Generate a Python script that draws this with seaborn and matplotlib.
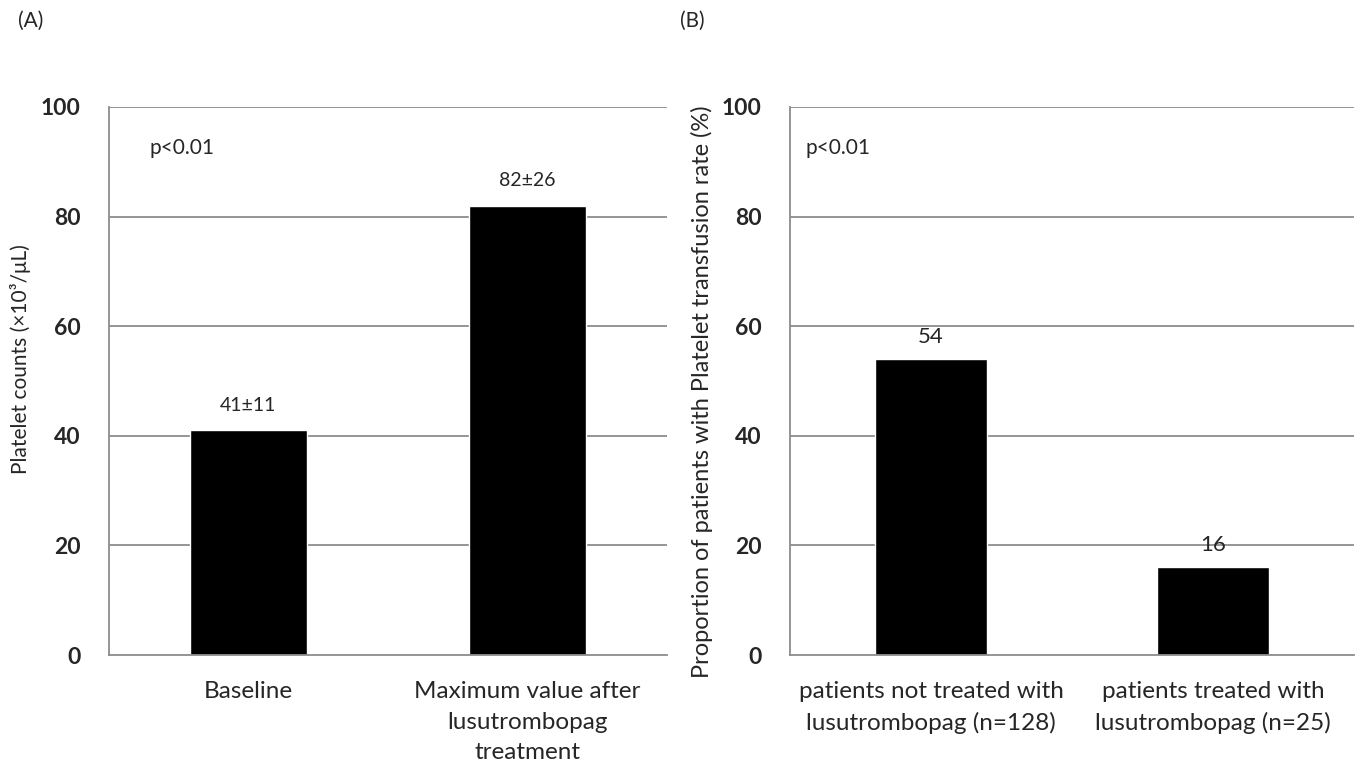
import numpy as np
import pandas as pd
import matplotlib.pyplot as plt
import seaborn as sns

sns.set_theme(style="white")
plt.rcParams['font.family'] = ['Lato', 'DejaVu Sans']

# panel A data
cats_a = ["Baseline", "Maximum value after\nlusutrombopag\ntreatment"]
vals_a = [41, 82]
notes_a = ["41\u00b111", "82\u00b126"]

# panel B data
cats_b = ["patients not treated with\nlusutrombopag (n=128)",
          "patients treated with\nlusutrombopag (n=25)"]
vals_b = [54, 16]
notes_b = ["54", "16"]

yticks = [0, 20, 40, 60, 80, 100]
grey = "#8c8c8c"


def style_panel(ax, ylabel, label_size, label_x, label_y):
    ax.set_ylim(0, 100)
    ax.set_xlim(-0.5, 1.5)
    ax.set_yticks(yticks)
    for y in yticks[1:]:
        ax.axhline(y, color=grey, lw=1.3, zorder=0)
    for s in ["top", "right"]:
        ax.spines[s].set_visible(False)
    for s in ["left", "bottom"]:
        ax.spines[s].set_color(grey)
        ax.spines[s].set_linewidth(1.3)
    ax.tick_params(axis="y", direction="out", length=6.5, width=1.3, color=grey,
                   labelsize=16.5, pad=14)
    for lab in ax.get_yticklabels():
        lab.set_fontweight("bold")
    # category separators as minor ticks
    ax.set_xticks([-0.5, 0.5, 1.5], minor=True)
    ax.tick_params(axis="x", which="minor", direction="out", length=8, width=1.3, color=grey)
    ax.tick_params(axis="x", which="major", length=0, labelsize=17.5, pad=19)
    for lab in ax.get_xticklabels():
        lab.set_linespacing(1.55)
    ax.set_xlabel("")
    ax.set_ylabel(ylabel, fontsize=label_size)
    ax.yaxis.set_label_coords(label_x, label_y)


fig = plt.figure(figsize=(13.62, 7.67), dpi=100)
ax_a = fig.add_axes([0.080, 0.146, 0.4097, 0.7145])
ax_b = fig.add_axes([0.580, 0.146, 0.4141, 0.7145])

df_a = pd.DataFrame({"cat": cats_a, "val": vals_a})
sns.barplot(data=df_a, x="cat", y="val", color="black", saturation=1,
            width=0.42, ax=ax_a, zorder=2)
style_panel(ax_a, "Platelet counts (\u00d710\u00b3/\u03bcL)", 15, -0.14, 0.54)
for i, (v, t) in enumerate(zip(vals_a, notes_a)):
    ax_a.text(i, v + 4.5, t, ha="center", va="center", fontsize=14)
ax_a.text(0.073, 0.925, "p<0.01", transform=ax_a.transAxes, fontsize=15,
          ha="left", va="center")

df_b = pd.DataFrame({"cat": cats_b, "val": vals_b})
sns.barplot(data=df_b, x="cat", y="val", color="black", saturation=1,
            width=0.40, ax=ax_b, zorder=2)
style_panel(ax_b, "Proportion of patients with Platelet transfusion rate (%)",
            17, -0.137, 0.48)
for i, (v, t) in enumerate(zip(vals_b, notes_b)):
    ax_b.text(i, v + 4, t, ha="center", va="center", fontsize=16)
ax_b.text(0.027, 0.925, "p<0.01", transform=ax_b.transAxes, fontsize=15,
          ha="left", va="center")

fig.text(0.013, 0.973, "(A)", fontsize=15, ha="left", va="center")
fig.text(0.499, 0.973, "(B)", fontsize=15, ha="left", va="center")

fig.savefig("out.png", dpi=100)
